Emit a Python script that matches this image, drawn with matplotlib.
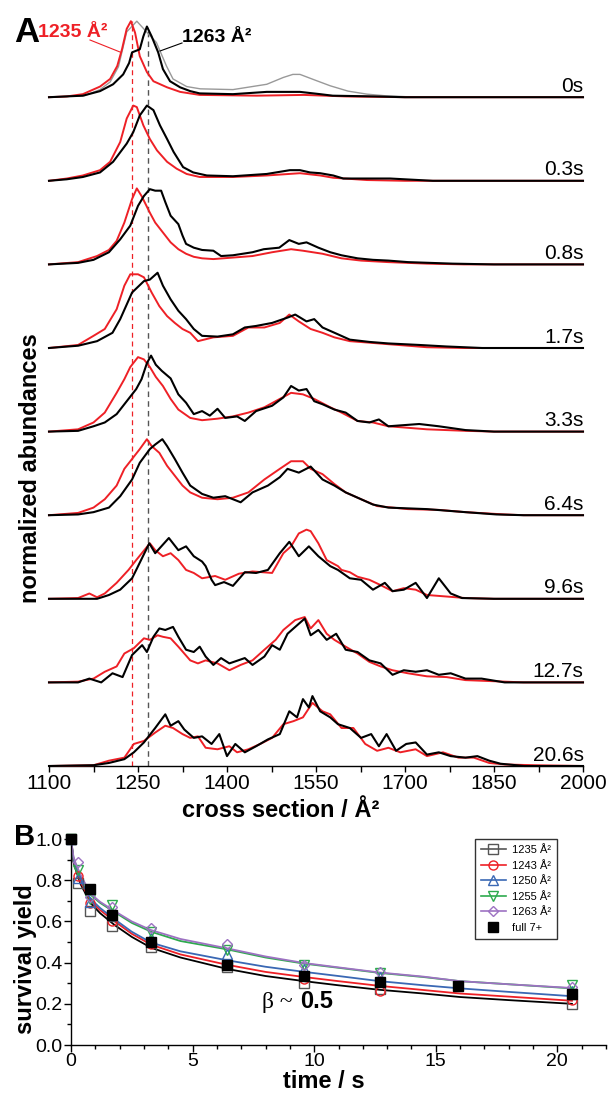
import matplotlib
matplotlib.use("Agg")
import matplotlib.pyplot as plt
from matplotlib.ticker import MultipleLocator, FormatStrFormatter
from matplotlib.lines import Line2D

plt.rcParams['font.family'] = ['Liberation Sans', 'DejaVu Sans']

# ---------------- Panel A data: (cross section, normalized abundance) ----------------
TIME_LABELS = ['0s', '0.3s', '0.8s', '1.7s', '3.3s', '6.4s', '9.6s', '12.7s', '20.6s']
X_TICKS = [1100, 1250, 1400, 1550, 1700, 1850, 2000]
X_MINOR = [1175, 1325, 1475, 1625, 1775, 1925]

GREY_0S = [(1100, 0), (1160, 0.02), (1186, 0.1), (1203, 0.2), (1217, 0.4), (1231, 0.86), (1248, 1.0),
           (1262, 0.88), (1281, 0.72), (1298, 0.41), (1309, 0.24), (1332, 0.14), (1355, 0.11),
           (1410, 0.1), (1467, 0.17), (1495, 0.26), (1511, 0.3), (1523, 0.3), (1550, 0.22),
           (1574, 0.15), (1604, 0.08), (1636, 0.04), (1665, 0.02), (1720, 0.0), (2000, 0)]

RED_0S = [(1100, 0), (1130, 0.01), (1157, 0.04), (1186, 0.14), (1203, 0.24), (1215, 0.41), (1223, 0.63),
          (1231, 0.9), (1238, 1.0), (1245, 0.85), (1253, 0.54), (1265, 0.33), (1276, 0.21), (1299, 0.13),
          (1321, 0.07), (1354, 0.03), (1450, 0.02), (1530, 0.03), (1600, 0.01), (1700, 0.0), (2000, 0)]
BLACK_0S = [(1100, 0), (1157, 0.02), (1186, 0.08), (1208, 0.17), (1225, 0.3), (1235, 0.45), (1240, 0.59),
            (1253, 0.63), (1259, 0.8), (1265, 0.93), (1273, 0.8), (1284, 0.59), (1292, 0.37), (1304, 0.21),
            (1321, 0.13), (1338, 0.08), (1354, 0.05), (1410, 0.04), (1467, 0.07), (1523, 0.07),
            (1557, 0.04), (1578, 0.02), (1650, 0.01), (1700, 0), (2000, 0)]

RED_03S = [(1100, 0), (1130, 0.03), (1157, 0.07), (1186, 0.14), (1203, 0.25), (1220, 0.51), (1231, 0.82),
           (1242, 0.99), (1248, 0.97), (1259, 0.73), (1270, 0.55), (1282, 0.4), (1299, 0.25), (1315, 0.16),
           (1332, 0.09), (1354, 0.05), (1410, 0.05), (1467, 0.07), (1523, 0.1), (1557, 0.07),
           (1579, 0.04), (1636, 0.01), (1700, 0), (2000, 0)]
BLACK_03S = [(1100, 0), (1130, 0.02), (1157, 0.05), (1186, 0.11), (1208, 0.25), (1231, 0.49), (1242, 0.64),
             (1253, 0.86), (1265, 0.99), (1276, 0.93), (1287, 0.73), (1299, 0.55), (1310, 0.38),
             (1326, 0.18), (1343, 0.11), (1366, 0.07), (1410, 0.06), (1467, 0.09), (1506, 0.14),
             (1523, 0.14), (1540, 0.11), (1557, 0.1), (1579, 0.07), (1596, 0.03), (1675, 0.03),
             (1747, 0.0), (2000, 0)]

RED_08S = [(1100, 0), (1149, 0.03), (1181, 0.11), (1201, 0.19), (1214, 0.31), (1227, 0.55), (1240, 0.86),
           (1248, 1.0), (1256, 0.9), (1270, 0.68), (1279, 0.55), (1292, 0.42), (1305, 0.29), (1318, 0.2),
           (1331, 0.14), (1344, 0.1), (1358, 0.08), (1377, 0.07), (1410, 0.09), (1443, 0.11),
           (1476, 0.16), (1508, 0.2), (1528, 0.18), (1561, 0.14), (1593, 0.08), (1626, 0.05),
           (1672, 0.03), (1737, 0.01), (1800, 0), (2000, 0)]
BLACK_08S = [(1100, 0), (1149, 0.02), (1175, 0.06), (1201, 0.16), (1220, 0.33), (1237, 0.51), (1250, 0.77),
             (1260, 0.9), (1270, 0.99), (1279, 0.97), (1289, 0.97), (1296, 0.82), (1305, 0.64),
             (1318, 0.53), (1325, 0.38), (1331, 0.27), (1344, 0.22), (1358, 0.19), (1377, 0.18),
             (1390, 0.11), (1410, 0.12), (1443, 0.16), (1462, 0.2), (1488, 0.22), (1505, 0.32),
             (1521, 0.27), (1534, 0.29), (1554, 0.22), (1574, 0.16), (1593, 0.12), (1620, 0.08),
             (1646, 0.06), (1672, 0.05), (1705, 0.03), (1780, 0.01), (1850, 0), (2000, 0)]

RED_17S = [(1100, 0), (1149, 0.04), (1175, 0.16), (1194, 0.25), (1214, 0.51), (1227, 0.82), (1237, 0.97),
           (1250, 0.97), (1260, 0.93), (1273, 0.73), (1286, 0.55), (1299, 0.42), (1312, 0.33),
           (1325, 0.25), (1338, 0.2), (1351, 0.09), (1377, 0.14), (1410, 0.16), (1436, 0.27),
           (1463, 0.27), (1489, 0.33), (1505, 0.44), (1521, 0.35), (1541, 0.25), (1561, 0.2),
           (1581, 0.14), (1607, 0.09), (1640, 0.07), (1672, 0.05), (1705, 0.03), (1737, 0.01),
           (1800, 0), (2000, 0)]
BLACK_17S = [(1100, 0), (1149, 0.03), (1181, 0.09), (1207, 0.2), (1220, 0.38), (1240, 0.73), (1260, 0.88),
             (1270, 0.9), (1283, 0.99), (1292, 0.82), (1305, 0.64), (1318, 0.49), (1331, 0.38),
             (1344, 0.25), (1358, 0.16), (1384, 0.15), (1410, 0.18), (1430, 0.27), (1449, 0.29),
             (1476, 0.33), (1502, 0.4), (1515, 0.44), (1534, 0.35), (1547, 0.38), (1561, 0.27),
             (1587, 0.18), (1607, 0.11), (1640, 0.08), (1672, 0.06), (1724, 0.04), (1770, 0.02),
             (1830, 0), (2000, 0)]

RED_33S = [(1100, 0), (1149, 0.03), (1175, 0.12), (1194, 0.25), (1214, 0.51), (1227, 0.69), (1237, 0.85),
           (1250, 0.98), (1260, 0.95), (1270, 0.85), (1280, 0.72), (1292, 0.6), (1305, 0.43),
           (1318, 0.29), (1338, 0.18), (1358, 0.15), (1384, 0.17), (1410, 0.2), (1436, 0.25),
           (1463, 0.32), (1489, 0.43), (1508, 0.51), (1528, 0.49), (1547, 0.43), (1574, 0.32),
           (1593, 0.25), (1620, 0.14), (1646, 0.12), (1672, 0.07), (1705, 0.05), (1737, 0.03),
           (1802, 0.01), (1850, 0), (2000, 0)]
BLACK_33S = [(1100, 0), (1149, 0.01), (1175, 0.07), (1194, 0.12), (1214, 0.23), (1234, 0.43), (1247, 0.56),
             (1256, 0.69), (1265, 0.9), (1272, 1.0), (1280, 0.88), (1290, 0.8), (1305, 0.7), (1318, 0.49),
             (1331, 0.38), (1344, 0.23), (1358, 0.27), (1371, 0.21), (1384, 0.3), (1397, 0.18),
             (1417, 0.2), (1430, 0.14), (1449, 0.27), (1476, 0.34), (1495, 0.45), (1508, 0.6),
             (1521, 0.54), (1534, 0.56), (1547, 0.4), (1561, 0.36), (1581, 0.29), (1600, 0.25),
             (1620, 0.14), (1640, 0.12), (1656, 0.16), (1672, 0.07), (1724, 0.1), (1757, 0.07),
             (1802, 0.02), (1850, 0), (2000, 0)]

RED_64S = [(1100, 0), (1149, 0.03), (1175, 0.1), (1194, 0.21), (1214, 0.39), (1227, 0.61), (1240, 0.74),
           (1253, 0.87), (1265, 1.0), (1273, 0.91), (1286, 0.82), (1299, 0.65), (1312, 0.52),
           (1325, 0.39), (1338, 0.3), (1358, 0.23), (1384, 0.21), (1410, 0.23), (1436, 0.3),
           (1463, 0.47), (1489, 0.61), (1508, 0.71), (1528, 0.71), (1541, 0.61), (1561, 0.54),
           (1581, 0.41), (1600, 0.3), (1626, 0.21), (1653, 0.12), (1705, 0.08), (1757, 0.07),
           (1802, 0.04), (1868, 0.01), (1900, 0), (2000, 0)]
BLACK_64S = [(1100, 0), (1149, 0.01), (1175, 0.04), (1201, 0.1), (1220, 0.25), (1240, 0.47), (1253, 0.69),
             (1270, 0.87), (1279, 0.93), (1291, 1.0), (1299, 0.91), (1312, 0.74), (1325, 0.56),
             (1338, 0.39), (1358, 0.28), (1377, 0.23), (1397, 0.25), (1423, 0.17), (1443, 0.3),
             (1469, 0.39), (1489, 0.5), (1502, 0.61), (1521, 0.56), (1541, 0.64), (1561, 0.47),
             (1581, 0.39), (1600, 0.3), (1626, 0.21), (1646, 0.14), (1672, 0.1), (1737, 0.08),
             (1802, 0.04), (1854, 0.01), (1900, 0), (2000, 0)]

RED_96S = [(1100, 0), (1149, 0.01), (1168, 0.07), (1181, 0.02), (1194, 0.07), (1214, 0.21), (1234, 0.38),
           (1247, 0.51), (1270, 0.73), (1279, 0.64), (1292, 0.56), (1305, 0.6), (1318, 0.51),
           (1331, 0.38), (1344, 0.34), (1358, 0.27), (1380, 0.3), (1397, 0.25), (1420, 0.33),
           (1443, 0.36), (1476, 0.34), (1495, 0.6), (1508, 0.69), (1521, 0.86), (1534, 0.91),
           (1541, 0.89), (1554, 0.73), (1568, 0.51), (1587, 0.43), (1593, 0.38), (1607, 0.35),
           (1620, 0.29), (1640, 0.25), (1659, 0.18), (1679, 0.1), (1698, 0.14), (1718, 0.12),
           (1737, 0.05), (1770, 0.03), (1802, 0.01), (1850, 0), (2000, 0)]
BLACK_96S = [(1100, 0), (1181, 0.0), (1201, 0.05), (1220, 0.12), (1240, 0.27), (1247, 0.38), (1269, 0.73),
             (1279, 0.6), (1302, 0.8), (1318, 0.64), (1331, 0.69), (1344, 0.56), (1358, 0.49),
             (1364, 0.43), (1374, 0.25), (1380, 0.18), (1395, 0.22), (1410, 0.17), (1430, 0.35),
             (1449, 0.34), (1469, 0.38), (1489, 0.6), (1505, 0.75), (1521, 0.56), (1538, 0.69),
             (1554, 0.56), (1574, 0.43), (1587, 0.38), (1607, 0.27), (1626, 0.25), (1646, 0.12),
             (1666, 0.21), (1679, 0.1), (1698, 0.12), (1718, 0.21), (1737, 0.01), (1757, 0.27),
             (1777, 0.07), (1796, 0.01), (1850, 0), (2000, 0)]

RED_127S = [(1100, 0), (1149, 0.01), (1175, 0.05), (1194, 0.14), (1214, 0.21), (1227, 0.38), (1243, 0.45),
            (1260, 0.58), (1270, 0.56), (1283, 0.62), (1292, 0.6), (1305, 0.58), (1318, 0.47),
            (1338, 0.29), (1351, 0.25), (1364, 0.29), (1384, 0.25), (1404, 0.16), (1423, 0.23),
            (1443, 0.29), (1463, 0.43), (1482, 0.56), (1495, 0.69), (1515, 0.82), (1531, 0.86),
            (1541, 0.71), (1554, 0.82), (1568, 0.64), (1581, 0.56), (1600, 0.47), (1620, 0.38),
            (1640, 0.27), (1659, 0.21), (1679, 0.16), (1705, 0.12), (1737, 0.08), (1770, 0.07),
            (1802, 0.03), (1868, 0.01), (1900, 0), (2000, 0)]
BLACK_127S = [(1100, 0), (1149, 0.0), (1168, 0.05), (1188, 0.0), (1207, 0.12), (1224, 0.07), (1240, 0.36),
              (1257, 0.49), (1265, 0.4), (1276, 0.6), (1286, 0.71), (1296, 0.69), (1309, 0.73),
              (1318, 0.6), (1331, 0.43), (1344, 0.4), (1354, 0.47), (1364, 0.34), (1377, 0.23),
              (1390, 0.32), (1404, 0.25), (1430, 0.32), (1443, 0.23), (1463, 0.34), (1476, 0.49),
              (1489, 0.43), (1502, 0.64), (1515, 0.73), (1531, 0.84), (1541, 0.62), (1554, 0.69),
              (1568, 0.56), (1584, 0.64), (1600, 0.43), (1620, 0.4), (1640, 0.29), (1659, 0.25),
              (1679, 0.1), (1698, 0.16), (1718, 0.14), (1737, 0.16), (1757, 0.1), (1777, 0.12),
              (1802, 0.05), (1829, 0.05), (1868, 0.0), (2000, 0)]

RED_206S = [(1100, 0), (1175, 0.01), (1201, 0.07), (1227, 0.11), (1243, 0.29), (1260, 0.33), (1279, 0.44),
            (1296, 0.53), (1309, 0.5), (1325, 0.42), (1338, 0.37), (1351, 0.39), (1364, 0.24),
            (1384, 0.22), (1404, 0.26), (1417, 0.18), (1436, 0.22), (1456, 0.29), (1476, 0.37),
            (1495, 0.55), (1512, 0.59), (1528, 0.64), (1544, 0.83), (1561, 0.72), (1574, 0.68),
            (1593, 0.5), (1613, 0.5), (1633, 0.29), (1653, 0.2), (1672, 0.24), (1692, 0.18),
            (1718, 0.22), (1737, 0.13), (1764, 0.18), (1790, 0.11), (1816, 0.11), (1842, 0.04),
            (1868, 0.02), (1920, 0.01), (2000, 0)]
BLACK_206S = [(1100, 0), (1175, 0.01), (1201, 0.04), (1227, 0.09), (1243, 0.18), (1260, 0.31), (1279, 0.5),
              (1296, 0.68), (1305, 0.53), (1318, 0.59), (1328, 0.48), (1344, 0.37), (1358, 0.39),
              (1374, 0.29), (1387, 0.42), (1400, 0.13), (1414, 0.29), (1430, 0.18), (1449, 0.26),
              (1469, 0.35), (1489, 0.42), (1505, 0.72), (1518, 0.64), (1528, 0.88), (1538, 0.77),
              (1544, 0.92), (1557, 0.72), (1574, 0.64), (1587, 0.55), (1607, 0.5), (1626, 0.37),
              (1643, 0.42), (1656, 0.26), (1669, 0.42), (1685, 0.2), (1702, 0.29), (1718, 0.31),
              (1737, 0.15), (1757, 0.18), (1777, 0.13), (1802, 0.11), (1822, 0.13), (1842, 0.07),
              (1861, 0.03), (1901, 0.0), (2000, 0)]

RED_TRACES = [RED_0S, RED_03S, RED_08S, RED_17S, RED_33S, RED_64S, RED_96S, RED_127S, RED_206S]
BLACK_TRACES = [BLACK_0S, BLACK_03S, BLACK_08S, BLACK_17S, BLACK_33S, BLACK_64S, BLACK_96S, BLACK_127S, BLACK_206S]

CCS_RED_MARK = 1240     # "1235 Å²" guide line
CCS_BLACK_MARK = 1267   # "1263 Å²" guide line

# ---------------- Panel B data ----------------
T_PTS = [0, 0.3, 0.8, 1.7, 3.3, 6.4, 9.6, 12.7, 20.6]
S1235 = [1.0, 0.785, 0.65, 0.58, 0.475, 0.38, 0.30, 0.27, 0.20]
S1243 = [1.0, 0.82, 0.69, 0.60, 0.49, 0.39, 0.32, 0.26, 0.22]
S1250 = [1.0, 0.81, 0.695, 0.63, 0.52, 0.44, 0.37, 0.33, 0.26]
S1255 = [1.0, 0.85, 0.71, 0.68, 0.55, 0.46, 0.39, 0.35, 0.29]
S1263 = [1.0, 0.89, 0.72, 0.67, 0.57, 0.49, 0.39, 0.354, 0.283]
FULL_T = [0, 0.8, 1.7, 3.3, 6.4, 9.6, 12.7, 15.9, 20.6]
FULL = [1.0, 0.76, 0.63, 0.50, 0.39, 0.335, 0.305, 0.285, 0.25]

FIT_T = [0, 0.1, 0.2, 0.4, 0.8, 1.2, 1.8, 2.5, 3.3, 4.5, 6.4, 8.0, 9.6, 11.0, 12.7, 14.5, 16.0, 18.0, 20.6]
FIT_1235 = [1.0, 0.89, 0.85, 0.78, 0.69, 0.64, 0.582, 0.525, 0.472, 0.425, 0.37, 0.335, 0.31, 0.29, 0.268, 0.25, 0.233, 0.218, 0.2]
FIT_1243 = [1.0, 0.90, 0.86, 0.79, 0.70, 0.655, 0.60, 0.54, 0.487, 0.44, 0.39, 0.355, 0.33, 0.31, 0.287, 0.267, 0.25, 0.235, 0.215]
FIT_1250 = [1.0, 0.90, 0.865, 0.80, 0.71, 0.665, 0.61, 0.55, 0.497, 0.455, 0.412, 0.38, 0.355, 0.335, 0.31, 0.29, 0.275, 0.258, 0.237]
FIT_1255 = [1.0, 0.91, 0.875, 0.82, 0.73, 0.69, 0.645, 0.593, 0.55, 0.505, 0.465, 0.425, 0.395, 0.375, 0.35, 0.33, 0.31, 0.295, 0.275]
FIT_1263 = [1.0, 0.915, 0.88, 0.825, 0.735, 0.695, 0.65, 0.60, 0.558, 0.515, 0.47, 0.43, 0.398, 0.377, 0.352, 0.332, 0.31, 0.295, 0.277]

SERIES_LABELS = ['1235 Å²', '1243 Å²', '1250 Å²', '1255 Å²', '1263 Å²', 'full 7+']

RED = '#ee2026'
GREY = '#555555'
BLUE = '#3a68b4'
GREEN = '#2eaa4e'
PURPLE = '#9d72c2'

W, H = 608, 1093
fig = plt.figure(figsize=(W / 100, H / 100), dpi=100)


def fx(px):
    return px / W


def fy(py):
    return 1 - py / H


# ================= Panel A =================
SPACING = 1.1
axA = fig.add_axes([fx(49), fy(766), fx(583) - fx(49), fy(6) - fy(766)])
axA.set_xlim(1100, 2000)
axA.set_ylim(0, 10)
for s in ['left', 'right', 'top']:
    axA.spines[s].set_visible(False)
axA.spines['bottom'].set_linewidth(1.0)
axA.set_yticks([])
axA.set_xticks(X_TICKS)
axA.set_xticks(X_MINOR, minor=True)
axA.tick_params(axis='x', which='both', direction='out', length=4, width=1, labelsize=15, pad=2)

n = len(TIME_LABELS)
top_off = (n - 1) * SPACING
axA.plot([p[0] for p in GREY_0S], [top_off + p[1] for p in GREY_0S], color='#999999', lw=1.0, zorder=2)

axA.plot([CCS_RED_MARK, CCS_RED_MARK], [0, top_off + 1.0], color=RED, lw=0.9, ls=(0, (4, 3)), zorder=1)
axA.plot([CCS_BLACK_MARK, CCS_BLACK_MARK], [0, top_off + 0.93], color='#555555', lw=1.0, ls=(0, (4, 3)), zorder=1)

for i, lab in enumerate(TIME_LABELS):
    off = (n - 1 - i) * SPACING
    r = RED_TRACES[i]
    b = BLACK_TRACES[i]
    axA.plot([p[0] for p in r], [off + p[1] for p in r], color=RED, lw=1.4, zorder=3, clip_on=False)
    axA.plot([p[0] for p in b], [off + p[1] for p in b], color='black', lw=1.5, zorder=4, clip_on=False)
    axA.text(2001, off + 0.07, lab, ha='right', va='baseline', fontsize=15)

fig.text(fx(31), fy(468), 'normalized abundances', rotation=90, ha='center', va='center',
         fontsize=17, fontweight='bold')
fig.text(fx(182), fy(817), 'cross section / Å²', ha='left', va='baseline', fontsize=17, fontweight='bold')

fig.text(fx(14), fy(42), 'A', ha='left', va='baseline', fontsize=25, fontweight='bold')
fig.text(fx(38), fy(37), '1235 Å²', ha='left', va='baseline', fontsize=14, fontweight='bold', color=RED)
fig.text(fx(182), fy(42), '1263 Å²', ha='left', va='baseline', fontsize=14, fontweight='bold', color='black')
fig.add_artist(Line2D([fx(90), fx(120)], [fy(40), fy(52)], color=RED, lw=0.8, transform=fig.transFigure))
fig.add_artist(Line2D([fx(182), fx(160)], [fy(43), fy(51)], color='black', lw=0.8, transform=fig.transFigure))

# ================= Panel B =================
axB = fig.add_axes([fx(71), fy(1045), fx(606) - fx(71), fy(835) - fy(1045)])
axB.set_xlim(0, 22)
axB.set_ylim(0, 1.02)
for s in ['right', 'top']:
    axB.spines[s].set_visible(False)
axB.spines['left'].set_linewidth(1.0)
axB.spines['bottom'].set_linewidth(1.0)
axB.xaxis.set_major_locator(MultipleLocator(5))
axB.xaxis.set_minor_locator(MultipleLocator(1))
axB.yaxis.set_major_locator(MultipleLocator(0.2))
axB.yaxis.set_minor_locator(MultipleLocator(0.1))
axB.yaxis.set_major_formatter(FormatStrFormatter('%.1f'))
axB.tick_params(axis='both', which='major', direction='out', length=5, width=1, labelsize=14, pad=1)
axB.tick_params(axis='both', which='minor', direction='out', length=3, width=1)

fits = [(FIT_1235, 'black'), (FIT_1243, RED), (FIT_1250, BLUE), (FIT_1255, GREEN), (FIT_1263, PURPLE)]
for vals, c in fits:
    axB.plot(FIT_T, vals, color=c, lw=1.3, zorder=2)

pts = [(S1235, GREY, 's'), (S1243, RED, 'o'), (S1250, BLUE, '^'), (S1255, GREEN, 'v'), (S1263, PURPLE, 'D')]
handles = []
for vals, c, m in pts:
    ms = 6.5 if m != 'D' else 5.5
    axB.plot(T_PTS, vals, ls='none', marker=m, ms=ms, mfc='none', mec=c, mew=1.0, zorder=3, clip_on=False)
    handles.append(Line2D([], [], color=c, lw=1.2, marker=m, ms=ms, mfc='none', mec=c, mew=1.0))
axB.plot(FULL_T, FULL, ls='none', marker='s', ms=7.5, color='black', zorder=4, clip_on=False)
handles.append(Line2D([], [], ls='none', marker='s', ms=7, color='black'))

leg = axB.legend(handles, SERIES_LABELS, loc='upper right', bbox_to_anchor=(fx(557), fy(839)),
                 bbox_transform=fig.transFigure, fontsize=8, frameon=True, fancybox=False,
                 edgecolor='black', handlelength=2.3, labelspacing=0.5, borderpad=0.55,
                 handletextpad=0.5, borderaxespad=0)
leg.get_frame().set_linewidth(1.0)

fig.text(fx(26), fy(959), 'survival yield', rotation=90, ha='center', va='center', fontsize=17, fontweight='bold')
fig.text(fx(324), fy(1088), 'time / s', ha='center', va='baseline', fontsize=17, fontweight='bold')
fig.text(fx(14), fy(845), 'B', ha='left', va='baseline', fontsize=21, fontweight='bold')
fig.text(fx(262), fy(1008), 'β ~', ha='left', va='baseline', fontsize=17, family=['Liberation Serif', 'DejaVu Serif'])
fig.text(fx(300), fy(1008), '0.5', ha='left', va='baseline', fontsize=17, fontweight='bold')

fig.savefig('out.png', dpi=100)
